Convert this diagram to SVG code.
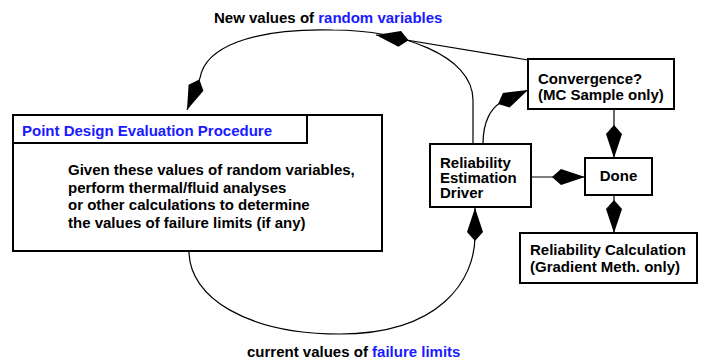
<svg xmlns="http://www.w3.org/2000/svg" width="701" height="362" viewBox="0 0 701 362">
<style>
  .box { fill: #ffffff; stroke: #000000; stroke-width: 2; }
  .t { font-family: "Liberation Sans", Arial, sans-serif; font-size: 15px; font-weight: bold; fill: #000000; }
  .blue { fill: #1a1aff; }
  .conn { fill: none; stroke: #000000; stroke-width: 1.2; }
  .head { fill: #000000; stroke: none; }
</style>
<defs>
  <path id="kite" class="head" d="M0,0 L-24,-8 L-33,0 L-24,8 Z"/>
</defs>
<rect width="701" height="362" fill="#ffffff"/>

<g id="connectors">
  <!-- driver -> point design (new values of random variables) -->
  <path class="conn" d="M473,144 L473,100 C473,55 400,30 333,30 C250,28 205,48 200,78 L187,110"/>
  <use href="#kite" transform="translate(187,110) rotate(112)"/>
  <!-- convergence -> arc -->
  <path class="conn" d="M528,60 L376,35"/>
  <use href="#kite" transform="translate(376,35) rotate(189.3)"/>
  <!-- driver -> convergence -->
  <path class="conn" d="M483,144 C483,120 492,108 500,103 L528,90"/>
  <use href="#kite" transform="translate(528,90) rotate(-25)"/>
  <!-- point design -> driver (current values of failure limits) -->
  <path class="conn" d="M189,251 C189,298 248,334 340,334 C440,334 475,280 475,236 L475,208"/>
  <use href="#kite" transform="translate(475,208) rotate(-90)"/>
  <!-- driver -> done -->
  <path class="conn" d="M531,177 L585,177"/>
  <use href="#kite" transform="translate(585,177)"/>
  <!-- convergence -> done -->
  <path class="conn" d="M614,109 L614,158"/>
  <use href="#kite" transform="translate(614,158) rotate(90)"/>
  <!-- done -> reliability calculation -->
  <path class="conn" d="M614,195 L614,233"/>
  <use href="#kite" transform="translate(614,233) rotate(90)"/>
</g>

<g id="label-top">
  <text class="t" x="214" y="23">New values of <tspan class="blue">random variables</tspan></text>
</g>
<g id="label-bottom">
  <text class="t" x="247" y="357">current values of <tspan class="blue">failure limits</tspan></text>
</g>

<g id="point-design">
  <rect class="box" x="13" y="115" width="369" height="136"/>
  <rect class="box" x="13" y="115" width="294" height="28"/>
  <text class="t blue" x="22" y="136">Point Design Evaluation Procedure</text>
  <text class="t" x="68" y="175">Given these values of random variables,</text>
  <text class="t" x="68" y="192.5">perform thermal/fluid analyses</text>
  <text class="t" x="68" y="210">or other calculations to determine</text>
  <text class="t" x="68" y="227.5">the values of failure limits (if any)</text>
</g>

<g id="convergence">
  <rect class="box" x="528" y="59" width="146" height="50"/>
  <text class="t" x="538" y="84">Convergence?</text>
  <text class="t" x="538" y="100">(MC Sample only)</text>
</g>

<g id="driver">
  <rect class="box" x="430" y="144" width="101" height="63"/>
  <text class="t" x="440" y="168">Reliability</text>
  <text class="t" x="440" y="183">Estimation</text>
  <text class="t" x="440" y="197.5">Driver</text>
</g>

<g id="done">
  <rect class="box" x="585" y="158" width="67" height="37"/>
  <text class="t" x="618.5" y="181" text-anchor="middle">Done</text>
</g>

<g id="reliability-calculation">
  <rect class="box" x="520" y="233" width="177" height="50"/>
  <text class="t" x="530" y="255">Reliability Calculation</text>
  <text class="t" x="530" y="272">(Gradient Meth. only)</text>
</g>
</svg>
